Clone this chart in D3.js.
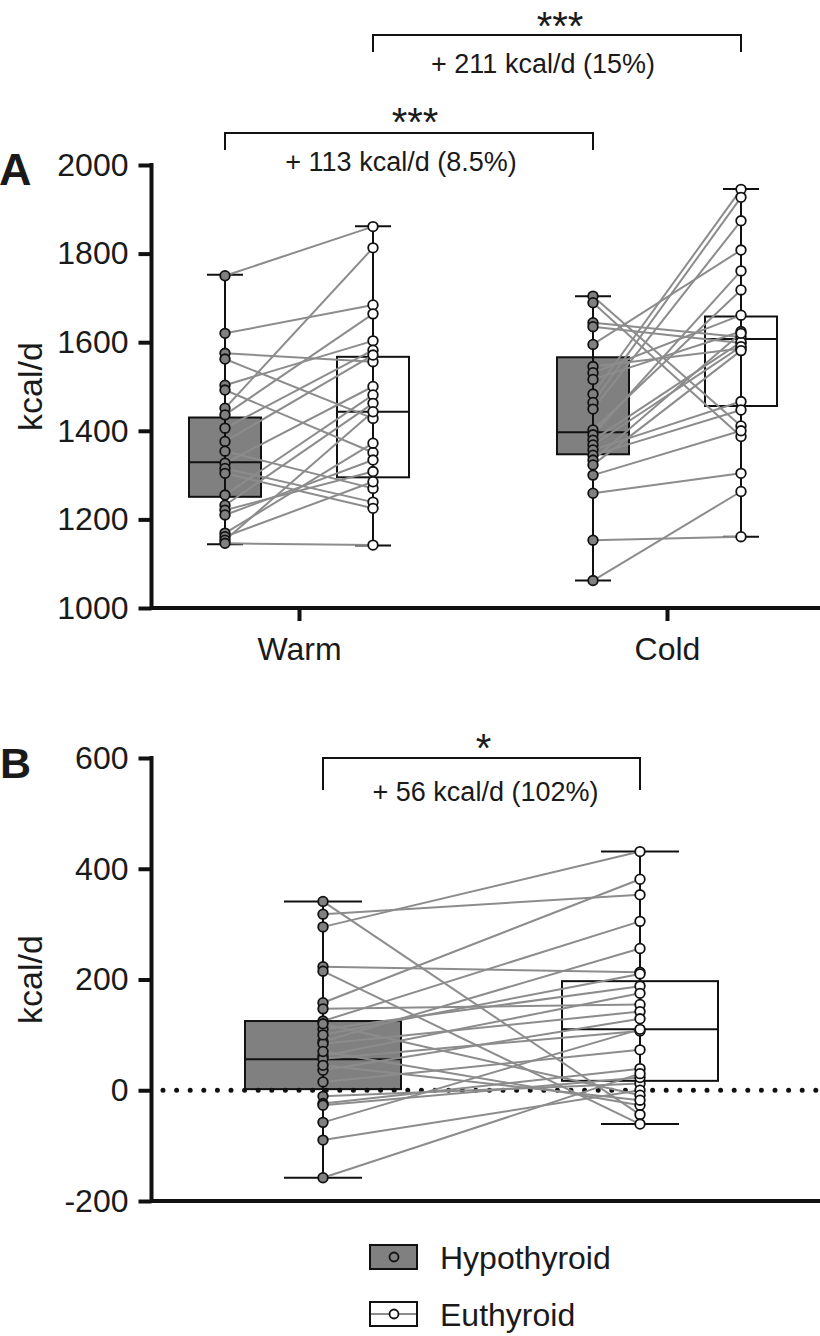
<!DOCTYPE html>
<html>
<head>
<meta charset="utf-8">
<script src="https://cdn.jsdelivr.net/npm/d3@7/dist/d3.min.js"></script>
<style>
  html, body { margin: 0; padding: 0; background: #fff; }
  svg { display: block; }
  text { font-family: "Liberation Sans", Arial, Helvetica, sans-serif; fill: #1a1a1a; }
</style>
</head>
<body>
<svg id="chart" width="820" height="1336"></svg>
<script>
// ---------------- DATA ----------------
const conditions = ["Warm", "Cold"];
const groups = ["Hypothyroid", "Euthyroid"];
const yTicksA = [1000, 1200, 1400, 1600, 1800, 2000];
const yTicksB = [-200, 0, 200, 400, 600];

// Panel A: paired subjects (same index = same subject)
const warmHypo = [1750, 1620, 1575, 1562, 1503, 1492, 1451, 1436, 1406, 1376, 1354, 1327, 1315, 1304, 1255, 1232, 1221, 1210, 1169, 1161, 1153, 1146];
const warmEu   = [1861, 1684, 1556, 1428, 1603, 1351, 1813, 1664, 1582, 1571, 1270, 1500, 1239, 1225, 1481, 1462, 1308, 1334, 1372, 1285, 1443, 1142];
const coldHypo = [1704, 1689, 1644, 1635, 1595, 1545, 1531, 1516, 1483, 1464, 1449, 1402, 1391, 1379, 1368, 1357, 1345, 1334, 1323, 1300, 1259, 1153, 1062];
const coldEu   = [1411, 1387, 1612, 1598, 1808, 1586, 1661, 1624, 1945, 1927, 1874, 1718, 1761, 1600, 1590, 1466, 1447, 1620, 1581, 1400, 1304, 1161, 1263];

// Box summaries [min, q1, median, q3, max]
const boxWarmHypo = [1144, 1251, 1329, 1430, 1752];
const boxWarmEu   = [1141, 1295, 1443, 1567, 1862];
const boxColdHypo = [1062, 1347, 1397, 1566, 1704];
const boxColdEu   = [1161, 1456, 1607, 1658, 1946];

// Panel B: cold minus warm (paired)
const diffHypo = [341, 318, 295, 223, 215, 158, 147, 125, 110, 88, 84, 62, 57, 36, 15, -11, -24, -27, -58, -90, -158, 120, 70, 45, 100];
const diffEu   = [-44, 353, 431, 213, -61, 381, 155, 305, 188, 256, 142, 175, 107, 129, 73, 12, 39, 23, 110, 0, 30, -9, -27, -18, 210];
const boxDiffHypo = [-158, 2, 56, 125, 341];
const boxDiffEu   = [-61, 17, 110, 197, 431];

const bracketTexts = ["+ 113 kcal/d (8.5%)", "+ 211 kcal/d (15%)", "+ 56 kcal/d (102%)"];
const starTexts = ["***", "***", "*"];

// ---------------- STYLE ----------------
const hypoFill = "#808080";
const euFill = "#ffffff";
const lineGray = "#8c8c8c";

const svg = d3.select("#chart");

// ---------------- SCALES ----------------
const yA = d3.scaleLinear().domain([1000, 2000]).range([608, 165]);
const yB = d3.scaleLinear().domain([-200, 600]).range([1201, 758]);
const xCond = d3.scalePoint().domain(conditions).range([299, 667]);
const xGrpA = d3.scalePoint().domain(groups).range([-74, 74]);
const xB = d3.scalePoint().domain(groups).range([323, 640]);

const axisLeft = 151.5, axisRight = 820;
const fmt = d => String(d);

function drawBox(g, cx, stats, y, w, fill) {
  const [mn, q1, md, q3, mx] = stats;
  g.append("rect")
    .attr("x", cx - w / 2).attr("y", y(q3))
    .attr("width", w).attr("height", y(q1) - y(q3))
    .attr("fill", fill).attr("stroke", "#111").attr("stroke-width", 2);
  g.append("line")
    .attr("x1", cx - w / 2).attr("x2", cx + w / 2)
    .attr("y1", y(md)).attr("y2", y(md))
    .attr("stroke", "#111").attr("stroke-width", 2);
}
function drawWhisker(g, cx, stats, y, capW) {
  const [mn, q1, md, q3, mx] = stats;
  g.append("line").attr("x1", cx).attr("x2", cx).attr("y1", y(mn)).attr("y2", y(mx))
    .attr("stroke", "#111").attr("stroke-width", 2);
  [mn, mx].forEach(v => {
    g.append("line").attr("x1", cx - capW / 2).attr("x2", cx + capW / 2)
      .attr("y1", y(v)).attr("y2", y(v)).attr("stroke", "#111").attr("stroke-width", 2);
  });
}
function drawPairs(g, x1, x2, a, b, y) {
  g.selectAll(null).data(d3.range(a.length)).join("line")
    .attr("x1", x1).attr("x2", x2)
    .attr("y1", i => y(a[i])).attr("y2", i => y(b[i]))
    .attr("stroke", lineGray).attr("stroke-width", 2);
}
function drawPoints(g, cx, vals, y, fill) {
  g.selectAll(null).data(vals).join("circle")
    .attr("cx", cx).attr("cy", d => y(d)).attr("r", 4.8)
    .attr("fill", fill).attr("stroke", "#111").attr("stroke-width", 1.8);
}
function drawBracket(x1, x2, yLine, drop, stars, starY, starDx, label, labelY, labelDx, starSize) {
  svg.append("path")
    .attr("d", `M${x1},${yLine + drop}V${yLine}H${x2}V${yLine + drop}`)
    .attr("fill", "none").attr("stroke", "#111").attr("stroke-width", 2);
  svg.append("text").attr("x", (x1 + x2) / 2 + starDx).attr("y", starY)
    .attr("text-anchor", "middle").attr("font-size", starSize).text(stars);
  svg.append("text").attr("x", (x1 + x2) / 2 + labelDx).attr("y", labelY)
    .attr("text-anchor", "middle").attr("font-size", 27).text(label);
}
function styleAxis(ax) {
  ax.select(".domain").remove();
  ax.selectAll(".tick line").attr("stroke", "#111").attr("stroke-width", 4);
  ax.selectAll(".tick text").attr("font-size", 32)
    .attr("font-family", "Liberation Sans, Arial, sans-serif").attr("fill", "#1a1a1a");
}

// ---------------- PANEL A ----------------
const gA = svg.append("g");
const dataA = {
  Warm: { hypo: warmHypo, eu: warmEu, bh: boxWarmHypo, be: boxWarmEu },
  Cold: { hypo: coldHypo, eu: coldEu, bh: boxColdHypo, be: boxColdEu }
};
const xh = c => xCond(c) + xGrpA("Hypothyroid");
const xe = c => xCond(c) + xGrpA("Euthyroid");
conditions.forEach(c => {
  drawBox(gA, xh(c), dataA[c].bh, yA, 72, hypoFill);
  drawBox(gA, xe(c), dataA[c].be, yA, 72, euFill);
});
conditions.forEach(c => {
  drawWhisker(gA, xh(c), dataA[c].bh, yA, 36);
  drawWhisker(gA, xe(c), dataA[c].be, yA, 36);
});
conditions.forEach(c => drawPairs(gA, xh(c), xe(c), dataA[c].hypo, dataA[c].eu, yA));
conditions.forEach(c => {
  drawPoints(gA, xh(c), dataA[c].hypo, yA, hypoFill);
  drawPoints(gA, xe(c), dataA[c].eu, yA, euFill);
});

// Axes A
styleAxis(svg.append("g").attr("transform", `translate(${axisLeft},0)`)
  .call(d3.axisLeft(yA).tickValues(yTicksA).tickSize(13).tickPadding(10).tickFormat(fmt)));
svg.append("path").attr("d", `M${axisLeft},${yA(2000) - 2}V${yA(1000)}H${axisRight}`)
  .attr("fill", "none").attr("stroke", "#111").attr("stroke-width", 4);
styleAxis(svg.append("g").attr("transform", `translate(0,${yA(1000)})`)
  .call(d3.axisBottom(xCond).tickSize(13).tickPadding(16)));

svg.append("text").attr("transform", `translate(42,${(yA(1000) + yA(2000)) / 2}) rotate(-90)`)
  .attr("text-anchor", "middle").attr("font-size", 34).text("kcal/d");
svg.append("text").attr("x", -1).attr("y", 185).attr("font-size", 45).attr("font-weight", "bold").text("A");

// Brackets A
drawBracket(xe("Warm"), xe("Cold"), 35, 17, starTexts[1], 40, 3, bracketTexts[1], 73, -14, 40);
drawBracket(xh("Warm"), xh("Cold"), 133, 17, starTexts[0], 136, 6, bracketTexts[0], 171, -8, 40);

// ---------------- PANEL B ----------------
const gB = svg.append("g");
drawBox(gB, xB("Hypothyroid"), boxDiffHypo, yB, 156, hypoFill);
drawBox(gB, xB("Euthyroid"), boxDiffEu, yB, 156, euFill);
gB.append("line").attr("x1", 163).attr("x2", 820).attr("y1", yB(0)).attr("y2", yB(0))
  .attr("stroke", "#111").attr("stroke-width", 5).attr("stroke-linecap", "round")
  .attr("stroke-dasharray", "0,13.6");
drawWhisker(gB, xB("Hypothyroid"), boxDiffHypo, yB, 78);
drawWhisker(gB, xB("Euthyroid"), boxDiffEu, yB, 78);
drawPairs(gB, xB("Hypothyroid"), xB("Euthyroid"), diffHypo, diffEu, yB);
drawPoints(gB, xB("Hypothyroid"), diffHypo, yB, hypoFill);
drawPoints(gB, xB("Euthyroid"), diffEu, yB, euFill);

styleAxis(svg.append("g").attr("transform", `translate(${axisLeft},0)`)
  .call(d3.axisLeft(yB).tickValues(yTicksB).tickSize(13).tickPadding(10).tickFormat(fmt)));
svg.append("path").attr("d", `M${axisLeft},${yB(600) - 2}V${yB(-200)}H${axisRight}`)
  .attr("fill", "none").attr("stroke", "#111").attr("stroke-width", 4);

svg.append("text").attr("transform", `translate(42,${(yB(-200) + yB(600)) / 2}) rotate(-90)`)
  .attr("text-anchor", "middle").attr("font-size", 34).text("kcal/d");
svg.append("text").attr("x", 0).attr("y", 778).attr("font-size", 43).attr("font-weight", "bold").text("B");

drawBracket(xB("Hypothyroid"), xB("Euthyroid"), 758, 32, starTexts[2], 762, 2, bracketTexts[2], 801, 4, 40);

// ---------------- LEGEND ----------------
const legend = svg.append("g");
const legItems = [
  { name: groups[0], fill: hypoFill, y: 1257 },
  { name: groups[1], fill: euFill, y: 1314 }
];
legItems.forEach(it => {
  legend.append("line").attr("x1", 370).attr("x2", 417).attr("y1", it.y).attr("y2", it.y)
    .attr("stroke", lineGray).attr("stroke-width", 2);
  legend.append("rect").attr("x", 370).attr("y", it.y - 12).attr("width", 47).attr("height", 24)
    .attr("fill", it.fill === euFill ? "none" : it.fill).attr("stroke", "#111").attr("stroke-width", 2);
  legend.append("circle").attr("cx", 394).attr("cy", it.y).attr("r", 4.5)
    .attr("fill", it.fill).attr("stroke", "#111").attr("stroke-width", 1.8);
  legend.append("text").attr("x", 440).attr("y", it.y + 12).attr("font-size", 32).text(it.name);
});
</script>
</body>
</html>
